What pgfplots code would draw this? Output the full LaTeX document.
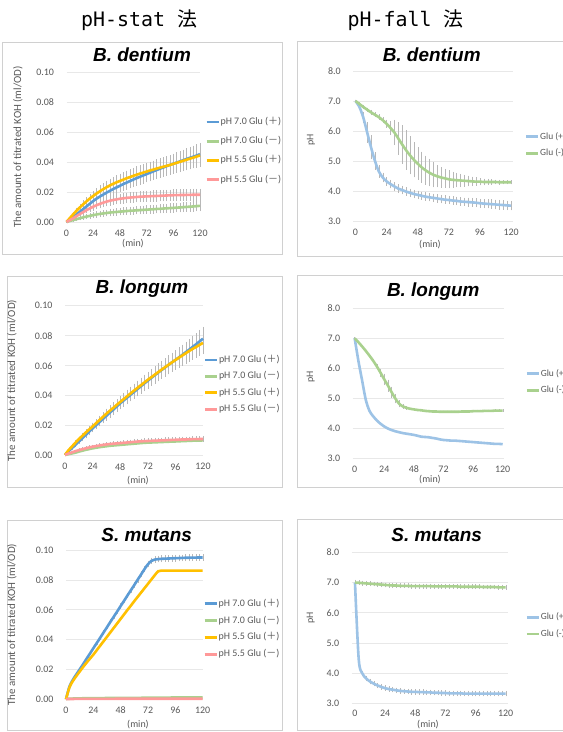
\documentclass[border=0pt]{standalone}
\usepackage{pgfplots}
\pgfplotsset{compat=1.18}
\usepackage{pgfplotstable}
\usepackage{fontspec}
\setmainfont{Carlito}
\newfontfamily\cjk{Noto Sans CJK JP}
\newfontfamily\mono{DejaVu Sans Mono}
\newfontfamily\arialf{Liberation Sans}

\definecolor{lb}{HTML}{5B9BD5}
\definecolor{lg}{HTML}{A9D18E}
\definecolor{ly}{HTML}{FFC000}
\definecolor{lp}{HTML}{FF9999}
\definecolor{rb}{HTML}{9DC3E6}
\definecolor{rg}{HTML}{A9D18E}
\definecolor{labc}{HTML}{595959}
\definecolor{gridc}{HTML}{E8E8E8}
\definecolor{framec}{HTML}{D0D0D0}
\definecolor{ebc}{HTML}{B8B8B8}

% pH-stat: t, pH7 Glu+, pH7 Glu-, pH5.5 Glu+, pH5.5 Glu-
\pgfplotstableread{
t b g y p
0 0.0000 0.0000 0.0000 0.0000
3 0.0016 0.0007 0.0026 0.0012
6 0.0033 0.0013 0.0051 0.0025
9 0.0050 0.0019 0.0075 0.0039
12 0.0068 0.0025 0.0097 0.0053
15 0.0086 0.0031 0.0118 0.0066
18 0.0104 0.0036 0.0138 0.0079
21 0.0122 0.0041 0.0157 0.0091
24 0.0140 0.0046 0.0174 0.0102
27 0.0156 0.0050 0.0190 0.0112
30 0.0170 0.0054 0.0205 0.0121
33 0.0183 0.0057 0.0219 0.0129
36 0.0196 0.0060 0.0232 0.0136
39 0.0208 0.0063 0.0244 0.0142
42 0.0220 0.0065 0.0255 0.0147
45 0.0231 0.0067 0.0265 0.0151
48 0.0242 0.0069 0.0274 0.0155
51 0.0253 0.0071 0.0283 0.0158
54 0.0263 0.0073 0.0292 0.0161
57 0.0273 0.0075 0.0300 0.0163
60 0.0283 0.0076 0.0308 0.0165
63 0.0293 0.0078 0.0316 0.0167
66 0.0302 0.0079 0.0323 0.0169
69 0.0311 0.0081 0.0330 0.0170
72 0.0320 0.0082 0.0337 0.0171
75 0.0329 0.0084 0.0344 0.0172
78 0.0338 0.0085 0.0350 0.0173
81 0.0347 0.0087 0.0357 0.0174
84 0.0356 0.0088 0.0363 0.0175
87 0.0364 0.0090 0.0369 0.0176
90 0.0373 0.0091 0.0375 0.0177
93 0.0381 0.0093 0.0381 0.0178
96 0.0389 0.0094 0.0388 0.0179
99 0.0397 0.0096 0.0395 0.0179
102 0.0405 0.0097 0.0402 0.0180
105 0.0413 0.0099 0.0409 0.0180
108 0.0421 0.0101 0.0416 0.0181
111 0.0429 0.0102 0.0423 0.0181
114 0.0436 0.0104 0.0430 0.0182
117 0.0444 0.0106 0.0437 0.0182
120 0.0453 0.0108 0.0445 0.0182
}\Lone

\pgfplotstableread{
t b g y p
0 0.0005 0.0005 0.0005 0.0005
3 0.0030 0.0010 0.0036 0.0014
6 0.0050 0.0015 0.0061 0.0022
9 0.0072 0.0020 0.0086 0.0030
12 0.0094 0.0027 0.0110 0.0037
15 0.0116 0.0033 0.0132 0.0043
18 0.0138 0.0039 0.0154 0.0049
21 0.0160 0.0044 0.0175 0.0055
24 0.0182 0.0049 0.0195 0.0060
27 0.0203 0.0053 0.0217 0.0064
30 0.0224 0.0057 0.0238 0.0068
33 0.0245 0.0060 0.0259 0.0072
36 0.0266 0.0063 0.0280 0.0075
39 0.0287 0.0066 0.0300 0.0078
42 0.0307 0.0068 0.0319 0.0080
45 0.0328 0.0070 0.0339 0.0082
48 0.0349 0.0072 0.0358 0.0084
51 0.0368 0.0074 0.0377 0.0086
54 0.0387 0.0076 0.0396 0.0088
57 0.0406 0.0078 0.0415 0.0090
60 0.0425 0.0080 0.0434 0.0092
63 0.0444 0.0082 0.0452 0.0094
66 0.0463 0.0084 0.0470 0.0096
69 0.0482 0.0086 0.0488 0.0097
72 0.0500 0.0087 0.0506 0.0098
75 0.0518 0.0088 0.0523 0.0099
78 0.0536 0.0089 0.0540 0.0100
81 0.0554 0.0090 0.0557 0.0101
84 0.0571 0.0091 0.0574 0.0102
87 0.0588 0.0092 0.0590 0.0103
90 0.0605 0.0093 0.0606 0.0104
93 0.0622 0.0094 0.0622 0.0105
96 0.0638 0.0095 0.0638 0.0106
99 0.0655 0.0096 0.0653 0.0107
102 0.0672 0.0097 0.0668 0.0108
105 0.0690 0.0098 0.0683 0.0108
108 0.0707 0.0099 0.0698 0.0109
111 0.0725 0.0100 0.0712 0.0110
114 0.0743 0.0101 0.0725 0.0110
117 0.0762 0.0101 0.0739 0.0111
120 0.0780 0.0102 0.0752 0.0111
}\Ltwo

\pgfplotstableread{
t b g y p
0 0.0000 0.0002 0.0000 0.0002
3 0.0085 0.0004 0.0080 0.0002
6 0.0130 0.0005 0.0122 0.0002
9 0.0166 0.0006 0.0155 0.0003
12 0.0200 0.0006 0.0186 0.0003
15 0.0235 0.0007 0.0216 0.0003
18 0.0271 0.0007 0.0245 0.0003
21 0.0306 0.0007 0.0272 0.0003
24 0.0342 0.0008 0.0299 0.0003
27 0.0377 0.0008 0.0329 0.0003
30 0.0412 0.0008 0.0359 0.0003
33 0.0448 0.0008 0.0389 0.0003
36 0.0483 0.0009 0.0419 0.0003
39 0.0519 0.0009 0.0449 0.0003
42 0.0554 0.0009 0.0479 0.0003
45 0.0589 0.0009 0.0509 0.0004
48 0.0625 0.0009 0.0539 0.0004
51 0.0660 0.0010 0.0569 0.0004
54 0.0696 0.0010 0.0599 0.0004
57 0.0731 0.0010 0.0628 0.0004
60 0.0766 0.0010 0.0658 0.0004
63 0.0802 0.0010 0.0687 0.0004
66 0.0837 0.0010 0.0716 0.0004
69 0.0873 0.0011 0.0745 0.0004
72 0.0905 0.0011 0.0774 0.0004
75 0.0927 0.0011 0.0803 0.0004
78 0.0936 0.0011 0.0832 0.0004
81 0.0939 0.0011 0.0858 0.0004
84 0.0941 0.0011 0.0862 0.0004
87 0.0942 0.0011 0.0862 0.0004
90 0.0943 0.0011 0.0862 0.0004
93 0.0944 0.0012 0.0862 0.0004
96 0.0945 0.0012 0.0862 0.0004
99 0.0946 0.0012 0.0862 0.0004
102 0.0947 0.0012 0.0862 0.0004
105 0.0948 0.0012 0.0862 0.0004
108 0.0948 0.0012 0.0862 0.0004
111 0.0949 0.0012 0.0862 0.0004
114 0.0949 0.0012 0.0862 0.0004
117 0.0950 0.0012 0.0862 0.0004
120 0.0950 0.0012 0.0862 0.0004
}\Lthree

% pH-fall: t, Glu+ (b) with error, Glu- (g) with error
\pgfplotstableread{
t b be g ge
0 7.00 0.00 7.00 0.00
3 6.80 0.05 6.90 0.02
6 6.45 0.15 6.80 0.03
9 5.95 0.30 6.71 0.03
12 5.45 0.36 6.62 0.04
15 5.00 0.25 6.54 0.04
18 4.65 0.17 6.46 0.05
21 4.45 0.12 6.36 0.06
24 4.32 0.10 6.24 0.10
27 4.23 0.10 6.10 0.20
30 4.15 0.10 5.95 0.38
33 4.08 0.10 5.75 0.50
36 4.03 0.10 5.55 0.60
39 3.98 0.10 5.36 0.62
42 3.94 0.10 5.19 0.60
45 3.90 0.10 5.04 0.55
48 3.87 0.10 4.91 0.50
51 3.84 0.10 4.79 0.48
54 3.81 0.10 4.69 0.45
57 3.79 0.10 4.61 0.42
60 3.77 0.10 4.54 0.38
63 3.75 0.10 4.49 0.33
66 3.73 0.10 4.45 0.30
69 3.71 0.10 4.42 0.28
72 3.70 0.10 4.39 0.26
75 3.68 0.10 4.37 0.23
78 3.67 0.10 4.36 0.20
81 3.65 0.10 4.35 0.18
84 3.64 0.10 4.34 0.16
87 3.63 0.11 4.33 0.14
90 3.62 0.11 4.32 0.12
93 3.61 0.11 4.31 0.10
96 3.59 0.11 4.31 0.08
99 3.58 0.11 4.30 0.07
102 3.57 0.11 4.30 0.06
105 3.56 0.12 4.30 0.05
108 3.55 0.12 4.30 0.04
111 3.54 0.12 4.29 0.04
114 3.53 0.12 4.29 0.03
117 3.52 0.12 4.29 0.03
120 3.51 0.12 4.29 0.03
}\Rone

\pgfplotstableread{
t b g ge
0 7.00 7.00 0.00
3 6.25 6.87 0.00
6 5.60 6.73 0.00
9 4.95 6.58 0.00
12 4.58 6.42 0.00
15 4.40 6.25 0.02
18 4.26 6.06 0.05
21 4.15 5.85 0.10
24 4.06 5.63 0.15
27 3.99 5.42 0.16
30 3.94 5.20 0.15
33 3.90 4.99 0.12
36 3.87 4.82 0.08
39 3.84 4.73 0.04
42 3.82 4.68 0.02
45 3.80 4.65 0.00
48 3.78 4.63 0.00
51 3.75 4.61 0.00
54 3.72 4.60 0.00
57 3.71 4.58 0.00
60 3.70 4.57 0.00
63 3.68 4.56 0.00
66 3.66 4.56 0.00
69 3.63 4.55 0.00
72 3.61 4.55 0.00
75 3.60 4.55 0.00
78 3.59 4.55 0.00
81 3.59 4.55 0.00
84 3.58 4.55 0.00
87 3.57 4.56 0.00
90 3.56 4.56 0.00
93 3.55 4.56 0.00
96 3.54 4.57 0.00
99 3.53 4.57 0.00
102 3.52 4.57 0.00
105 3.51 4.58 0.00
108 3.50 4.58 0.00
111 3.49 4.58 0.00
114 3.48 4.59 0.00
117 3.48 4.59 0.00
120 3.47 4.59 0.00
}\Rtwo

\pgfplotstableread{
t b g
0 7.00 7.00
3 4.45 6.99
6 3.98 6.98
9 3.82 6.97
12 3.72 6.96
15 3.65 6.95
18 3.59 6.94
21 3.54 6.93
24 3.50 6.92
27 3.47 6.91
30 3.45 6.90
33 3.43 6.90
36 3.41 6.89
39 3.40 6.89
42 3.39 6.89
45 3.38 6.88
48 3.38 6.88
51 3.37 6.88
54 3.37 6.88
57 3.36 6.88
60 3.36 6.88
63 3.35 6.87
66 3.35 6.87
69 3.34 6.87
72 3.34 6.87
75 3.33 6.87
78 3.33 6.87
81 3.33 6.87
84 3.33 6.86
87 3.32 6.86
90 3.32 6.86
93 3.32 6.86
96 3.32 6.86
99 3.32 6.86
102 3.32 6.85
105 3.32 6.85
108 3.32 6.85
111 3.32 6.85
114 3.32 6.84
117 3.32 6.84
120 3.32 6.84
}\Rthree

\pgfplotsset{
  panel/.style={
    scale only axis,
    axis line style={draw=none},
    major tick length=0pt,
    ymajorgrids,
    grid style={line width=0.6bp, draw=gridc},
    xtick={0,24,48,72,96,120},
    tick label style={font=\fontsize{10}{12}\selectfont, text=labc},
    /pgf/number format/assume math mode=true,
    xticklabel style={anchor=center, yshift=-11bp},
    yticklabel style={anchor=east, xshift=-9bp},
    clip=false,
    legend style={draw=none, fill=none, anchor=west,
      font=\fontsize{10}{12}\selectfont, text=labc, inner sep=0pt,
      nodes={inner sep=0.6bp, text height=7bp, text depth=2bp},
      /tikz/every even column/.append style={column sep=0pt}},
    legend cell align=left,
    legend image code/.code={\draw[##1, line width=2.8bp] (0bp,0bp) -- (12bp,0bp);},
  },
  lstat/.style={panel, xmin=0, xmax=120, ymin=0, ymax=0.1,
    ytick={0,0.02,0.04,0.06,0.08,0.1},
    yticklabel style={/pgf/number format/fixed, /pgf/number format/fixed zerofill,
      /pgf/number format/precision=2}},
  rfall/.style={panel, ymin=3, ymax=8, ytick={3,4,5,6,7,8},
    legend style={font=\fontsize{9.5}{11}\selectfont},
    yticklabel style={/pgf/number format/fixed, /pgf/number format/fixed zerofill,
      /pgf/number format/precision=1}},
  ln/.style={line width=2.6bp, smooth, no markers},
  ebars/.style={draw=none, no markers, forget plot,
    error bars/y dir=both,
    error bars/error bar style={draw=ebc, line width=0.4bp},
    error bars/error mark options={draw=ebc, line width=0.4bp, mark size=1.2bp}},
}

\newcommand{\pls}{{\cjk ＋}}
\newcommand{\mns}{{\cjk －}}
\newcommand{\ttl}[1]{{\fontsize{19}{22}\selectfont\arialf\bfseries\itshape #1}}
\newcommand{\koh}{The amount of titrated KOH (ml/OD)}

\begin{document}
\begin{tikzpicture}[x=1bp,y=1bp]
\useasboundingbox (0,0) rectangle (563,732);
\fill[white] (0,0) rectangle (563,732);
\clip (0,0) rectangle (563,732);

% chart frames
\draw[framec, line width=0.8bp] (2,478) rectangle (282,690);
\draw[framec, line width=0.8bp] (7,245) rectangle (282,456);
\draw[framec, line width=0.8bp] (7,2) rectangle (282,212);
\draw[framec, line width=0.8bp] (297,476) rectangle (600,691);
\draw[framec, line width=0.8bp] (297,245) rectangle (600,457);
\draw[framec, line width=0.8bp] (297,2) rectangle (600,213);

% column headers
\node[font=\fontsize{20}{24}\selectfont\mono] at (139,712) {pH-stat {\cjk 法}};
\node[font=\fontsize{20}{24}\selectfont\mono] at (405.5,712) {pH-fall {\cjk 法}};

% ---------- pH-stat, B. dentium
\begin{axis}[lstat, at={(66.5bp,510bp)}, width=133.5bp, height=149.7bp,
  legend style={at={(1.037,0.476)}, row sep=9bp}]
\addplot[ebars, error bars/y fixed relative=0.15] table[x=t,y=b]{\Lone};
\addplot[ebars, error bars/y fixed relative=0.15] table[x=t,y=y]{\Lone};
\addplot[ebars, error bars/y fixed relative=0.17] table[x=t,y=p]{\Lone};
\addplot[ebars, error bars/y fixed relative=0.25] table[x=t,y=g]{\Lone};
\addplot[ln, lb] table[x=t,y=b]{\Lone};
\addplot[ln, lg] table[x=t,y=g]{\Lone};
\addplot[ln, ly] table[x=t,y=y]{\Lone};
\addplot[ln, lp] table[x=t,y=p]{\Lone};
\legend{pH 7.0 Glu (\pls),pH 7.0 Glu (\mns),pH 5.5 Glu (\pls),pH 5.5 Glu (\mns)}
\end{axis}
\node at (142,677) {\ttl{B. dentium}};
\node[rotate=90, font=\fontsize{11}{12}\selectfont, text=labc] at (18,585) {\koh};
\node[font=\fontsize{10}{12}\selectfont, text=labc] at (133,488) {(min)};

% ---------- pH-stat, B. longum
\begin{axis}[lstat, at={(65bp,276.3bp)}, width=138bp, height=150bp,
  legend style={at={(1.003,0.474)}, row sep=6.2bp}]
\addplot[ebars, error bars/y fixed relative=0.09] table[x=t,y=b]{\Ltwo};
\addplot[ebars, error bars/y fixed relative=0.09] table[x=t,y=y]{\Ltwo};
\addplot[ebars, error bars/y fixed relative=0.1] table[x=t,y=p]{\Ltwo};
\addplot[ln, lb] table[x=t,y=b]{\Ltwo};
\addplot[ln, lg] table[x=t,y=g]{\Ltwo};
\addplot[ln, ly] table[x=t,y=y]{\Ltwo};
\addplot[ln, lp] table[x=t,y=p]{\Ltwo};
\legend{pH 7.0 Glu (\pls),pH 7.0 Glu (\mns),pH 5.5 Glu (\pls),pH 5.5 Glu (\mns)}
\end{axis}
\node at (142,443.7) {\ttl{B. longum}};
\node[rotate=90, font=\fontsize{11}{12}\selectfont, text=labc] at (12,351.3) {\koh};
\node[font=\fontsize{10}{12}\selectfont, text=labc] at (138,251.3) {(min)};

% ---------- pH-stat, S. mutans
\begin{axis}[lstat, at={(66bp,32.7bp)}, width=136.7bp, height=149.3bp,
  legend style={at={(1.003,0.471)}, row sep=6.6bp}]
\addplot[ebars, error bars/y fixed relative=0.015] table[x=t,y=b]{\Lthree};
\addplot[ln, lb] table[x=t,y=b]{\Lthree};
\addplot[ln, lg] table[x=t,y=g]{\Lthree};
\addplot[ln, ly] table[x=t,y=y]{\Lthree};
\addplot[ln, lp] table[x=t,y=p]{\Lthree};
\legend{pH 7.0 Glu (\pls),pH 7.0 Glu (\mns),pH 5.5 Glu (\pls),pH 5.5 Glu (\mns)}
\end{axis}
\node at (146.7,197) {\ttl{S. mutans}};
\node[rotate=90, font=\fontsize{11}{12}\selectfont, text=labc] at (12,107.4) {\koh};
\node[font=\fontsize{10}{12}\selectfont, text=labc] at (138,7) {(min)};

% ---------- pH-fall, B. dentium
\begin{axis}[rfall, at={(353.3bp,511bp)}, width=160bp, height=150bp,
  xmin=-1.7, xmax=121.7,
  legend style={at={(1.07,0.507)}, row sep=6.6bp}]
\addplot[ebars, error bars/y explicit] table[x=t,y=b,y error=be]{\Rone};
\addplot[ebars, error bars/y explicit] table[x=t,y=g,y error=ge]{\Rone};
\addplot[ln, rb] table[x=t,y=b]{\Rone};
\addplot[ln, rg] table[x=t,y=g]{\Rone};
\legend{Glu (+),Glu (-)}
\end{axis}
\node at (431.7,677) {\ttl{B. dentium}};
\node[rotate=90, font=\fontsize{10}{12}\selectfont, text=labc] at (311,592) {pH};
\node[font=\fontsize{10}{12}\selectfont, text=labc] at (430,487.7) {(min)};

% ---------- pH-fall, B. longum
\begin{axis}[rfall, at={(352.7bp,273.7bp)}, width=151.6bp, height=150bp,
  xmin=-1.6, xmax=121.3,
  legend style={at={(1.138,0.509)}, row sep=6.6bp}]
\addplot[ebars, error bars/y explicit] table[x=t,y=g,y error=ge]{\Rtwo};
\addplot[ln, rb] table[x=t,y=b]{\Rtwo};
\addplot[ln, rg] table[x=t,y=g]{\Rtwo};
\legend{Glu (+),Glu (-)}
\end{axis}
\node at (433.3,440.3) {\ttl{B. longum}};
\node[rotate=90, font=\fontsize{10}{12}\selectfont, text=labc] at (310.7,355.3) {pH};
\node[font=\fontsize{10}{12}\selectfont, text=labc] at (430,252.5) {(min)};

% ---------- pH-fall, S. mutans
\begin{axis}[rfall, at={(351.7bp,28.7bp)}, width=156bp, height=151bp,
  xmin=-2.6, xmax=121.6, xticklabel style={yshift=1bp},
  legend style={at={(1.112,0.515)}, row sep=6.6bp}]
\addplot[ebars, error bars/y fixed=0.05] table[x=t,y=b]{\Rthree};
\addplot[ebars, error bars/y fixed=0.04] table[x=t,y=g]{\Rthree};
\addplot[ln, rb] table[x=t,y=b]{\Rthree};
\addplot[ln, rg] table[x=t,y=g]{\Rthree};
\legend{Glu (+),Glu (-)}
\end{axis}
\node at (436.7,197) {\ttl{S. mutans}};
\node[rotate=90, font=\fontsize{10}{12}\selectfont, text=labc] at (310.7,114) {pH};
\node[font=\fontsize{10}{12}\selectfont, text=labc] at (428,7.5) {(min)};
\end{tikzpicture}
\end{document}
